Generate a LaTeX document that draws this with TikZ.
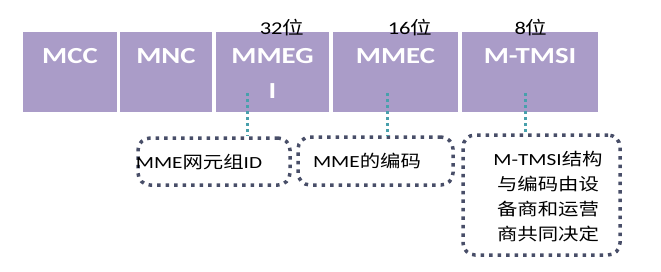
\documentclass[tikz,border=0pt]{standalone}
\usepackage{fontspec}
\setmainfont{Carlito}[FakeStretch=1.25]
\newfontfamily\cjk{Noto Sans CJK SC}[FakeStretch=1.2]
\usetikzlibrary{calc}
\definecolor{fieldfill}{RGB}{170,156,200}
\definecolor{notedot}{RGB}{72,78,104}
\definecolor{linkteal}{RGB}{72,160,172}

\begin{document}
\begin{tikzpicture}[x=1pt, y=-1pt,
  every node/.style={font=\fontsize{17}{25}\selectfont},
  field/.style={fill=fieldfill, minimum height=80pt, inner sep=0pt},
  fieldname/.style={text=white, font=\fontsize{23}{35}\selectfont\bfseries,
               align=center, anchor=north},
  bits/.style={font=\fontsize{18}{20}\selectfont},
  note/.style={draw=notedot, line width=3.5pt, dash pattern=on 3.5pt off 5pt,
               rounded corners=12pt, inner sep=0pt},
  link/.style={draw=linkteal, line width=3pt, dash pattern=on 3pt off 3pt}
]
\useasboundingbox (0,0) rectangle (661,271);

% GUTI fields
\node[field, minimum width=94pt] (mcc) at (70,72) {};
\node[field, minimum width=92pt] (mnc) at (166,72) {};
\node[field, minimum width=113pt] (mmegi) at (272.5,72) {};
\node[field, minimum width=125pt] (mmec) at (395.5,72) {};
\node[field, minimum width=136pt] (mtmsi) at (530,72) {};

\node[fieldname] (mcc-t) at (mcc |- 0,45) {MCC};
\node[fieldname] (mnc-t) at (mnc |- 0,45) {MNC};
\node[fieldname] (mmegi-t) at (mmegi |- 0,45) {MMEG\\I};
\node[fieldname] (mmec-t) at (mmec |- 0,45) {MMEC};
\node[fieldname] (mtmsi-t) at (mtmsi |- 0,45) {M-TMSI};

% bit lengths
\node[bits] (b32) at (282,28) {32{\cjk 位}};
\node[bits] (b16) at (410,28) {16{\cjk 位}};
\node[bits] (b8) at (531,28) {8{\cjk 位}};

% notes
\node[note, minimum width=152pt, minimum height=47pt] (n1) at (214,161.5) {};
\node (n1-t) at (199,162) {MME{\cjk 网元组}ID};
\node[note, minimum width=155pt, minimum height=48pt] (n2) at (375.5,161) {};
\node (n2-t) at (367,161) {MME{\cjk 的编码}};
\node[note, minimum width=157pt, minimum height=120pt] (n3) at (541.5,195) {};
\node[align=center] (n3-t) at (548,197)
  {M-TMSI{\cjk 结构}\\{\cjk 与编码由设}\\{\cjk 备商和运营}\\{\cjk 商共同决定}};

% links from fields down to notes
\coordinate (l1) at (247,93);
\coordinate (l2) at (387,93);
\coordinate (l3) at (525,93);
\draw[link] (l1) -- (l1 |- n1.north);
\draw[link] (l2) -- (l2 |- n2.north);
\draw[link] (l3) -- (l3 |- n3.north);

\end{tikzpicture}
\end{document}
